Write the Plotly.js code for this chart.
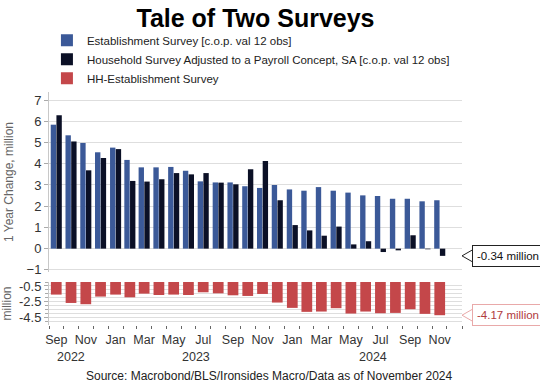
<!DOCTYPE html>
<html>
<head>
<meta charset="utf-8">
<script src="https://cdn.plot.ly/plotly-3.0.1.min.js"></script>
<style>html,body{margin:0;padding:0;background:#fff;}#chart{width:540px;height:384px;}</style>
</head>
<body>
<div id="chart"></div>
<script>
const months = ['2022-09','2022-10','2022-11','2022-12','2023-01','2023-02','2023-03','2023-04','2023-05','2023-06','2023-07','2023-08','2023-09','2023-10','2023-11','2023-12','2024-01','2024-02','2024-03','2024-04','2024-05','2024-06','2024-07','2024-08','2024-09','2024-10','2024-11'];
const establishment = [5.84,5.34,4.98,4.54,4.76,4.18,3.83,3.83,3.85,3.67,3.17,3.12,3.12,2.94,2.86,3.00,2.79,2.73,2.90,2.73,2.64,2.51,2.48,2.35,2.35,2.23,2.28];
const household = [6.28,5.05,3.69,4.27,4.69,3.19,3.16,3.27,3.56,3.50,3.56,3.11,3.03,3.74,4.13,2.28,1.11,0.86,0.61,1.04,0.20,0.35,-0.16,-0.08,0.63,-0.03,-0.34];
const difference = [-1.58,-2.63,-2.79,-1.83,-1.58,-1.92,-1.46,-1.63,-1.58,-1.63,-1.29,-1.42,-1.67,-1.75,-1.50,-2.58,-3.25,-3.75,-3.71,-3.29,-3.96,-3.71,-3.92,-3.88,-3.42,-4.00,-4.17];
const seriesNames = ['Establishment Survey [c.o.p. val 12 obs]','Household Survey Adjusted to a Payroll Concept, SA [c.o.p. val 12 obs]','HH-Establishment Survey'];
const yearLabels = ['2022','2023','2024'];
const yearLabelPos = ['2022-10-16','2023-07-01','2024-07-01'];

const FONT = 'Liberation Sans, Arial, sans-serif';
const BLUE = '#3b5998', NAVY = '#0b1026', RED = '#c4474a';
const GRID = '#dedede';

const common = {type:'bar', x: months, xperiod:'M1', xperiodalignment:'middle', hoverinfo:'skip'};
const traces = [
  Object.assign({}, common, {name: seriesNames[0], y: establishment, marker:{color:BLUE}, xaxis:'x', yaxis:'y'}),
  Object.assign({}, common, {name: seriesNames[1], y: household, marker:{color:NAVY}, xaxis:'x', yaxis:'y'}),
  Object.assign({}, common, {name: seriesNames[2], y: difference, marker:{color:RED}, xaxis:'x', yaxis:'y2'})
];

const lastHH = household[household.length-1];
const lastDiff = difference[difference.length-1];
const fmt = v => v.toFixed(2) + ' million';

const annotations = [
  {xref:'paper', yref:'y', x:1, y:lastHH, xshift:10, xanchor:'left', yanchor:'middle', showarrow:false,
   text: fmt(lastHH), font:{family:FONT, size:11.5, color:'#111'}, bgcolor:'#fff', bordercolor:'#222', borderwidth:1, borderpad:4},
  {xref:'paper', yref:'y2', x:1, y:lastDiff, xshift:10, xanchor:'left', yanchor:'middle', showarrow:false,
   text: fmt(lastDiff), font:{family:FONT, size:11.5, color:'#b03a3d'}, bgcolor:'#fff', bordercolor:'#e9a9a9', borderwidth:1, borderpad:4},
  {xref:'paper', yref:'paper', x:0.535, y:-0.219, xanchor:'center', yanchor:'middle', showarrow:false,
   text:'Source: Macrobond/BLS/Ironsides Macro/Data as of November 2024', font:{family:FONT, size:12, color:'#222'}}
];
yearLabels.forEach((t,i)=>annotations.push({xref:'x', yref:'paper', x:yearLabelPos[i], y:-0.136, xanchor:'center', yanchor:'middle', showarrow:false, text:t, font:{family:FONT, size:12.5, color:'#333'}}));

const shapes = [
  {type:'path', xref:'paper', yref:'y', xsizemode:'pixel', ysizemode:'pixel', xanchor:1, yanchor:lastHH,
   path:'M 10.5,6 L 0,0 L 10.5,-6', line:{color:'#222', width:1}, fillcolor:'#fff'},
  {type:'path', xref:'paper', yref:'y2', xsizemode:'pixel', ysizemode:'pixel', xanchor:1, yanchor:lastDiff,
   path:'M 10.5,6 L 0,0 L 10.5,-6', line:{color:'#e9a9a9', width:1}, fillcolor:'#fff'}
];

const layout = {
  width:540, height:384,
  margin:{l:49, r:78, t:92, b:59},
  paper_bgcolor:'#fff', plot_bgcolor:'#fff',
  font:{family:FONT, color:'#333'},
  barmode:'group', bargap:0.2, bargroupgap:0.06,
  showlegend:true,
  legend:{x:-0.005, y:1.284, xanchor:'left', yanchor:'top', orientation:'v', tracegroupgap:0,
          font:{family:FONT, size:11.5, color:'#222'}, bgcolor:'rgba(0,0,0,0)'},
  title:{text:'Tale of Two Surveys', x:0.5, xref:'paper', xanchor:'center', y:0.952, yref:'container', yanchor:'middle',
         font:{family:FONT, size:25, weight:'bold', color:'#000'}},
  xaxis:{type:'date', anchor:'y2', range:['2022-09-01','2025-01-01'], tick0:'2022-09-01', dtick:'M1',
         ticklabelmode:'period', tickformat:'%b', tickangle:0,
         labelalias:{'Oct':' ','Dec':' ','Feb':' ','Apr':' ','Jun':' ','Aug':' '},
         ticks:'outside', ticklen:3, tickcolor:'#666', tickfont:{family:FONT, size:12.5, color:'#333'},
         showgrid:false, zeroline:false, showline:false, fixedrange:true},
  xaxis2:{type:'date', overlaying:'x', anchor:'y2', side:'bottom', range:['2022-09-01','2025-01-01'], tick0:'2023-01-01', dtick:'M12',
          ticks:'outside', ticklen:6, tickcolor:'#666', showticklabels:false, showgrid:false, zeroline:false, showline:false},
  yaxis:{domain:[0.2275,1], range:[-1.1,7.38], dtick:1, tick0:0, ticks:'outside', ticklen:4, tickcolor:'#aaa',
         showline:true, linecolor:'#c8c8c8', linewidth:1, gridcolor:GRID, zeroline:false,
         tickfont:{family:FONT, size:13, color:'#333'},
         title:{text:'1 Year Change, million', font:{family:FONT, size:12, color:'#666'}, standoff:10}},
  yaxis2:{domain:[0,0.1845], range:[-5.4,0], tickmode:'array', tickvals:[-0.5,-2.5,-4.5], ticktext:['-0.5','-2.5','-4.5'],
          ticks:'outside', ticklen:4, tickcolor:'#aaa', showline:true, linecolor:'#c8c8c8', gridcolor:GRID, zeroline:false,
          minor:{dtick:0.5, tick0:0, showgrid:true, gridcolor:GRID, ticks:'outside', ticklen:3, tickcolor:'#aaa'},
          tickfont:{family:FONT, size:13, color:'#333'},
          title:{text:'million', font:{family:FONT, size:12, color:'#666'}, standoff:6}},
  annotations: annotations,
  shapes: shapes
};

Plotly.newPlot('chart', traces, layout, {displayModeBar:false, staticPlot:true});
</script>
</body>
</html>
